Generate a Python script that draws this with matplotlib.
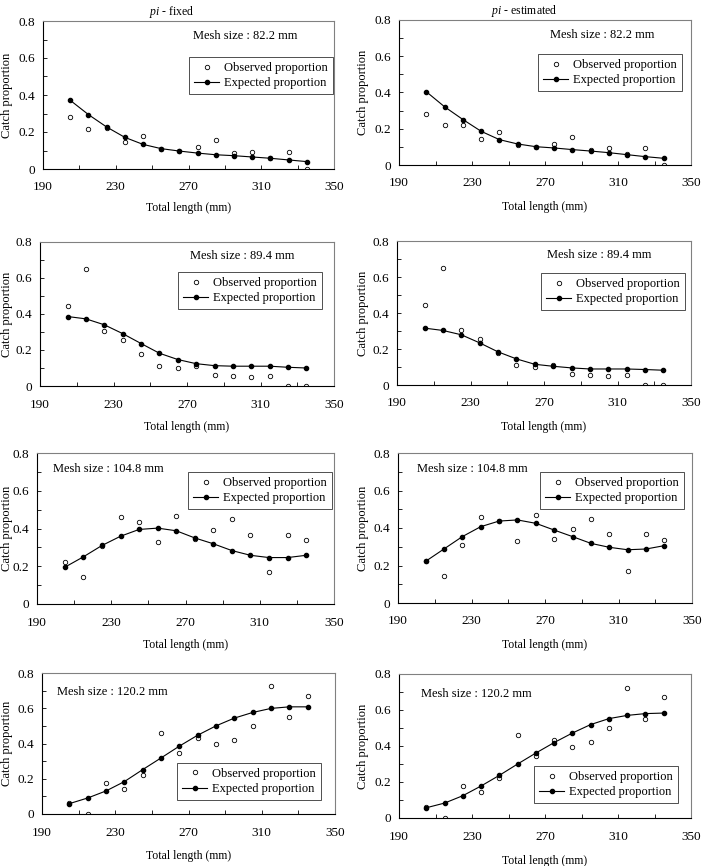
import matplotlib
matplotlib.use("Agg")
import matplotlib.pyplot as plt
import matplotlib.ticker as mticker
import numpy as np

plt.rcParams['font.family'] = ['Liberation Serif', 'DejaVu Serif']
plt.rcParams['mathtext.fontset'] = 'custom'
plt.rcParams['mathtext.it'] = 'Liberation Serif:italic'
plt.rcParams['mathtext.rm'] = 'Liberation Serif'

# total length classes (mm)
length = [205, 215, 225, 235, 245, 255, 265, 275, 285, 295, 305, 315, 325, 335]

mesh = ["82.2", "89.4", "104.8", "120.2"]

obs_822 = [0.28, 0.218, 0.22, 0.145, 0.18, 0.108, 0.098, 0.117, 0.155, 0.085, 0.092, 0.058, 0.092, 0.0]
obs_894 = [0.447, 0.648, 0.304, 0.258, 0.178, 0.11, 0.1, 0.111, 0.063, 0.058, 0.048, 0.058, 0.0, 0.0]
obs_1048 = [0.225, 0.143, 0.308, 0.46, 0.435, 0.329, 0.468, 0.344, 0.394, 0.448, 0.368, 0.17, 0.368, 0.338]
obs_1202 = [0.06, 0.0, 0.176, 0.144, 0.22, 0.461, 0.345, 0.434, 0.395, 0.421, 0.502, 0.724, 0.552, 0.671]

# expected, pi fixed
fix_822 = [0.371, 0.294, 0.227, 0.171, 0.133, 0.110, 0.097, 0.086, 0.077, 0.072, 0.065, 0.058, 0.049, 0.040]
fix_894 = [0.386, 0.373, 0.340, 0.291, 0.236, 0.182, 0.147, 0.124, 0.113, 0.110, 0.110, 0.110, 0.104, 0.100]
fix_1048 = [0.195, 0.250, 0.310, 0.359, 0.395, 0.402, 0.388, 0.350, 0.319, 0.283, 0.258, 0.246, 0.246, 0.258]
fix_1202 = [0.059, 0.091, 0.131, 0.184, 0.252, 0.318, 0.385, 0.447, 0.500, 0.544, 0.576, 0.599, 0.608, 0.608]

# expected, pi estimated
est_822 = [0.404, 0.321, 0.251, 0.186, 0.140, 0.116, 0.101, 0.094, 0.085, 0.077, 0.068, 0.057, 0.046, 0.037]
est_894 = [0.316, 0.303, 0.279, 0.234, 0.184, 0.145, 0.115, 0.104, 0.095, 0.089, 0.089, 0.089, 0.086, 0.082]
est_1048 = [0.222, 0.288, 0.354, 0.407, 0.437, 0.443, 0.425, 0.389, 0.354, 0.318, 0.297, 0.284, 0.288, 0.306]
est_1202 = [0.057, 0.083, 0.124, 0.178, 0.237, 0.300, 0.361, 0.419, 0.472, 0.519, 0.552, 0.570, 0.580, 0.583]

observed = [obs_822, obs_894, obs_1048, obs_1202]
expected = [[fix_822, fix_894, fix_1048, fix_1202],
            [est_822, est_894, est_1048, est_1202]]

xticks = [190, 230, 270, 310, 350]
xminor = [210, 250, 290, 330]

W, H = 705, 866
fig = plt.figure(figsize=(W / 100, H / 100), dpi=100)

# axes boxes in pixels: (left, top, right, bottom)
boxes = [
    [(43, 21, 334, 169), (399, 20, 691, 165)],
    [(40, 242, 334, 386), (397, 241, 691, 385)],
    [(37, 453, 334, 604), (398, 453, 692, 603)],
    [(42, 673, 335, 814), (399, 674, 691, 818)],
]
xlab_y = [[208, 207], [427, 427], [645, 645], [856, 861]]
ylab_x = [7, 363]
# mesh label (axes fraction, left/center)
mesh_pos = [[(0.515, 0.90), (0.517, 0.90)],
            [(0.51, 0.90), (0.51, 0.90)],
            [(0.054, 0.894), (0.065, 0.894)],
            [(0.05, 0.865), (0.075, 0.86)]]
leg_loc = ['upper right', 'upper right', 'upper right', 'lower right']
leg_anchor = [[(0.997, 0.757), (0.97, 0.766)],
              [(0.959, 0.792), (0.98, 0.778)],
              [(0.993, 0.874), (0.973, 0.874)],
              [(0.952, 0.10), (0.955, 0.104)]]

for r in range(4):
    for c in range(2):
        l, t, rr, b = boxes[r][c]
        ax = fig.add_axes([l / W, 1 - b / H, (rr - l) / W, (b - t) / H])
        ax.plot(length, observed[r], linestyle='none', marker='o', markersize=3.2,
                markerfacecolor='white', markeredgecolor='black', markeredgewidth=0.6,
                label='Observed proportion', zorder=2)
        ax.plot(length, expected[c][r], color='black', linewidth=0.8, marker='o',
                markersize=3.0, label='Expected proportion', zorder=3)
        ax.set_xlim(190, 350)
        ax.set_ylim(0, 0.8)
        ax.xaxis.set_major_locator(mticker.FixedLocator(xticks))
        ax.xaxis.set_minor_locator(mticker.FixedLocator(xminor))
        ax.yaxis.set_major_locator(mticker.MultipleLocator(0.2))
        ax.yaxis.set_minor_locator(mticker.MultipleLocator(0.1))
        ax.yaxis.set_major_formatter(mticker.FuncFormatter(
            lambda v, p: '0' if abs(v) < 1e-9 else ('%.1f' % v)))
        ax.tick_params(which='both', direction='in', length=3, width=0.6,
                       labelsize=9.5, top=False, right=False)
        ax.tick_params(axis='x', pad=9)
        ax.tick_params(axis='y', pad=6)
        for s in ['left', 'bottom']:
            ax.spines[s].set_color('black')
            ax.spines[s].set_linewidth(0.8)
        for s in ['top', 'right']:
            ax.spines[s].set_color('#808080')
            ax.spines[s].set_linewidth(0.8)
        ax.set_ylabel('Catch proportion', fontsize=9, va='center')
        ax.yaxis.set_label_coords((ylab_x[c] - l) / (rr - l), 0.5)
        fig.text(((l + rr) / 2) / W, 1 - xlab_y[r][c] / H, 'Total length (mm)',
                 fontsize=8.5, ha='center', va='center')
        mx, my = mesh_pos[r][c]
        ax.text(mx, my, 'Mesh size : %s mm' % mesh[r],
                transform=ax.transAxes, fontsize=9, ha='left', va='center')
        leg = ax.legend(loc=leg_loc[r], bbox_to_anchor=leg_anchor[r][c], fontsize=9,
                        frameon=True, fancybox=False, handlelength=2.0,
                        handletextpad=0.4, borderpad=0.4, labelspacing=0.25,
                        borderaxespad=0.0)
        leg.get_frame().set_edgecolor('black')
        leg.get_frame().set_linewidth(0.6)

fig.text(172 / W, 1 - 12 / H, r'$\it{pi}$ - fixed', fontsize=8.5, ha='center', va='center')
fig.text(524 / W, 1 - 11 / H, r'$\it{pi}$ - estimated', fontsize=8.5, ha='center', va='center')

fig.savefig('out.png', dpi=100)
